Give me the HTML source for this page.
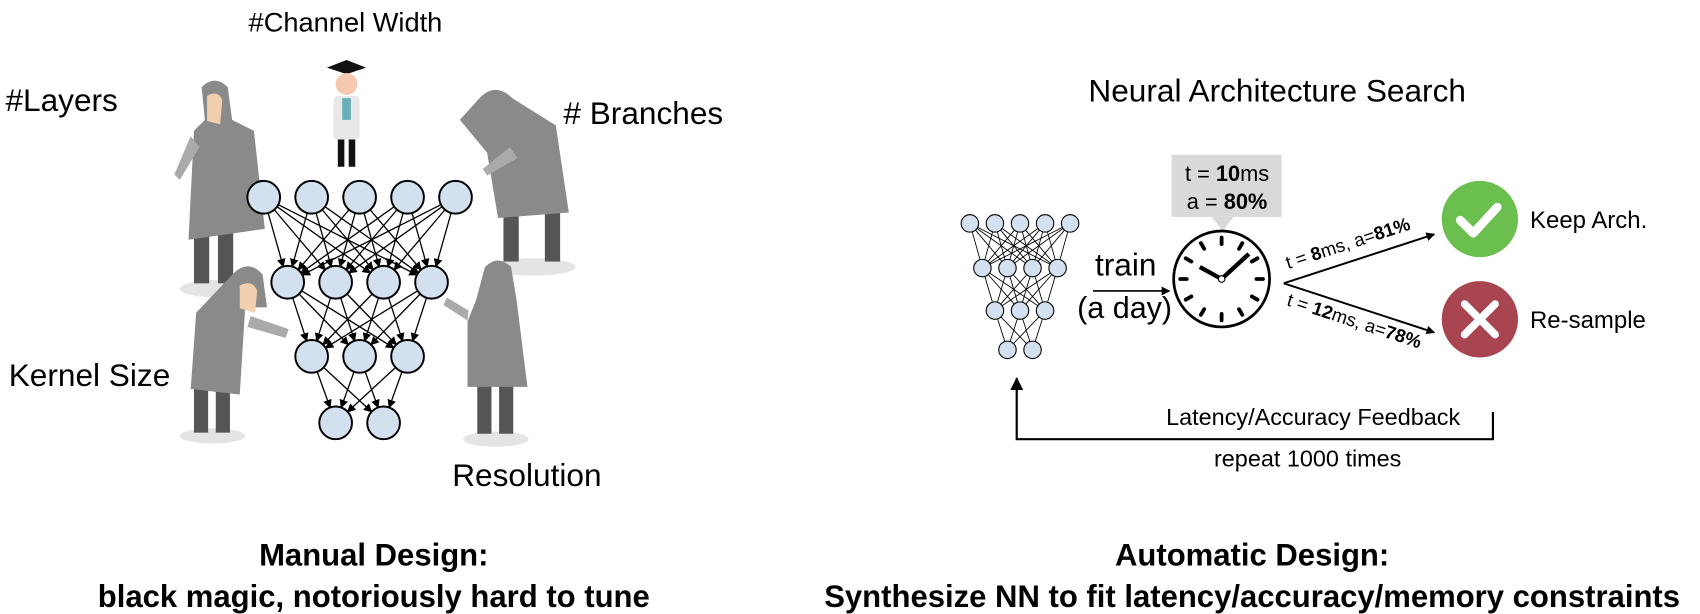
<!DOCTYPE html>
<html><head><meta charset="utf-8"><style>
body{margin:0;background:#fff;}
svg{display:block;font-family:"Liberation Sans",sans-serif;}
</style></head><body>
<svg id="s" width="1700" height="614" viewBox="0 0 1560 563.4">
<defs>
<marker id="ar" markerWidth="8" markerHeight="8" refX="7" refY="4" orient="auto" markerUnits="userSpaceOnUse"><path d="M0,0 L8,4 L0,8 z" fill="#000"/></marker>
<marker id="ar2" markerWidth="12" markerHeight="12" refX="11" refY="6" orient="auto" markerUnits="userSpaceOnUse"><path d="M0,0 L12,6 L0,12 z" fill="#000"/></marker>
</defs>
<g font-size="29" fill="#000">
<text x="317" y="29" font-size="25" text-anchor="middle">#Channel Width</text>
<text x="5" y="102">#Layers</text>
<text x="517" y="114"># Branches</text>
<text x="8" y="354">Kernel Size</text>
<text x="415" y="446">Resolution</text>
</g>
<g>
<g>
<ellipse cx="200" cy="265" rx="35" ry="8" fill="#e4e4e4"/>
<rect x="178" y="205" width="14" height="55" fill="#555"/><rect x="200" y="205" width="14" height="55" fill="#555"/>
<path d="M185,80 q12,-12 24,0 l4,30 l20,10 l10,90 l-70,10 l5,-100 l10,-10 z" fill="#8a8a8a"/>
<path d="M190,88 q10,-6 14,4 l-2,22 l-12,-3 z" fill="#f2cfae"/>
<path d="M175,125 l-15,35 l5,5 l18,-30 z" fill="#aaa"/>
</g>
<g>
<ellipse cx="490" cy="245" rx="38" ry="8" fill="#e4e4e4"/>
<rect x="462" y="190" width="14" height="50" fill="#555"/><rect x="500" y="190" width="14" height="50" fill="#555"/>
<path d="M440,90 q15,-15 30,0 l40,25 l12,80 l-65,5 l-10,-60 l-25,-30 z" fill="#8a8a8a"/>
<path d="M468,135 l-25,20 l4,6 l28,-16 z" fill="#aaa"/>
</g>
<g>
<ellipse cx="195" cy="400" rx="30" ry="7" fill="#e4e4e4"/>
<rect x="178" y="355" width="13" height="42" fill="#555"/><rect x="198" y="355" width="13" height="42" fill="#555"/>
<path d="M215,250 q14,-12 26,2 l4,30 l-20,0 l-5,80 l-45,-5 l5,-70 z" fill="#8a8a8a"/>
<path d="M220,262 q12,-6 16,5 l-2,20 l-14,-4 z" fill="#f2cfae"/>
<path d="M230,290 l35,12 l-3,8 l-35,-10 z" fill="#aaa"/>
</g>
<g>
<ellipse cx="455" cy="403" rx="30" ry="7" fill="#e4e4e4"/>
<rect x="438" y="350" width="13" height="48" fill="#555"/><rect x="458" y="350" width="13" height="48" fill="#555"/>
<path d="M445,245 q12,-12 24,0 l5,30 l10,80 l-55,0 l0,-60 l8,-20 z" fill="#8a8a8a"/>
<path d="M430,285 l-20,-12 l-3,7 l22,14 z" fill="#aaa"/>
</g>
<g>
<path d="M300,62 l18,-7 l18,7 l-18,6 z" fill="#111"/>
<circle cx="318" cy="77" r="10" fill="#f5c9b0"/>
<rect x="306" y="88" width="24" height="40" rx="4" fill="#e8e8e8"/>
<rect x="314" y="90" width="8" height="20" fill="#6ab0b8"/>
<rect x="310" y="128" width="6" height="25" fill="#111"/><rect x="320" y="128" width="6" height="25" fill="#111"/>
</g>
</g>
<g id="netL"></g>
<g id="netR"></g>
<text x="1172" y="93" font-size="29" text-anchor="middle">Neural Architecture Search</text>
<g>
<text x="1033" y="253" font-size="29" text-anchor="middle">train</text>
<line x1="1003" y1="267" x2="1073" y2="267" stroke="#000" stroke-width="1.5" marker-end="url(#ar)"/>
<text x="1032" y="292" font-size="28" text-anchor="middle">(a day)</text>
</g>
<g>
<rect x="1075" y="142" width="101" height="57" fill="#d9d9d9"/>
<path d="M1112,199 l10,13 l10,-13 z" fill="#d9d9d9"/>
<text x="1126" y="166" font-size="20" text-anchor="middle">t = <tspan font-weight="bold">10</tspan>ms</text>
<text x="1126" y="192" font-size="20" text-anchor="middle">a = <tspan font-weight="bold">80%</tspan></text>
</g>
<g id="clock">
<circle cx="1121" cy="256" r="44" fill="#fff" stroke="#000" stroke-width="2.5"/>
<line x1="1121" y1="256" x2="1101" y2="245" stroke="#000" stroke-width="4"/>
<line x1="1121" y1="256" x2="1146" y2="233" stroke="#000" stroke-width="4"/>
<circle cx="1121" cy="256" r="3" fill="#fff" stroke="#000"/>
</g>
<g>
<line x1="1178" y1="260" x2="1316" y2="215" stroke="#000" stroke-width="1.8" marker-end="url(#ar)"/>
<line x1="1178" y1="260" x2="1316" y2="305" stroke="#000" stroke-width="1.8" marker-end="url(#ar)"/>
<text transform="translate(1182,247) rotate(-18)" font-size="17">t = <tspan font-weight="bold">8</tspan>ms, a=<tspan font-weight="bold">81%</tspan></text>
<text transform="translate(1180,280) rotate(18)" font-size="17">t = <tspan font-weight="bold">12</tspan>ms, a=<tspan font-weight="bold">78%</tspan></text>
</g>
<g>
<circle cx="1358" cy="201" r="35" fill="#6bbf4e"/>
<path d="M1340,202 l12,12 l22,-24" fill="none" stroke="#fff" stroke-width="8" stroke-linecap="round" stroke-linejoin="round"/>
<text x="1404" y="209" font-size="22">Keep Arch.</text>
</g>
<g>
<circle cx="1358" cy="293" r="35" fill="#a84550"/>
<path d="M1344,279 l28,28 M1372,279 l-28,28" stroke="#fff" stroke-width="7" stroke-linecap="round"/>
<text x="1404" y="301" font-size="22">Re-sample</text>
</g>
<g>
<path d="M1370,378 L1370,403 L933,403 L933,347" fill="none" stroke="#000" stroke-width="2" marker-end="url(#ar2)"/>
<text x="1205" y="390" font-size="21.5" text-anchor="middle">Latency/Accuracy Feedback</text>
<text x="1200" y="428" font-size="21.5" text-anchor="middle">repeat 1000 times</text>
</g>
<g font-size="28.5" font-weight="bold" text-anchor="middle">
<text x="343" y="519">Manual Design:</text>
<text x="343" y="557">black magic, notoriously hard to tune</text>
<text x="1149" y="519">Automatic Design:</text>
<text x="1149" y="557">Synthesize NN to fit latency/accuracy/memory constraints</text>
</g>
</svg>
<script>
const layerSizes=[5,4,3,2];
const NS="http://www.w3.org/2000/svg";
function net(g,cx,ys,dx,r,sw){
  const pts=layerSizes.map((n,i)=>{const a=[];for(let k=0;k<n;k++)a.push([cx+(k-(n-1)/2)*dx,ys[i]]);return a;});
  for(let i=0;i<pts.length-1;i++)for(const p of pts[i])for(const q of pts[i+1]){
    const L=Math.hypot(q[0]-p[0],q[1]-p[1]);const ux=(q[0]-p[0])/L,uy=(q[1]-p[1])/L;
    const l=document.createElementNS(NS,'line');
    
    
    l.setAttribute('x1',p[0]+ux*r);l.setAttribute('y1',p[1]+uy*r);
    l.setAttribute('x2',q[0]-ux*r);l.setAttribute('y2',q[1]-uy*r);
    l.setAttribute('stroke','#000');l.setAttribute('stroke-width',sw);
    if(r>10)l.setAttribute('marker-end','url(#ar)');
    g.appendChild(l);}
  for(const a of pts)for(const p of a){
    const c=document.createElementNS(NS,'circle');
    
    
    c.setAttribute('cx',p[0]);c.setAttribute('cy',p[1]);c.setAttribute('r',r);
    c.setAttribute('fill','#d3e0f0');c.setAttribute('stroke','#000');c.setAttribute('stroke-width',r>10?1.8:1);
    g.appendChild(c);}
}
net(document.getElementById('netL'),330,[181,259,327,388],44,15,1.2);
net(document.getElementById('netR'),936,[205,246,285,321],23,8,0.8);
const ck=document.getElementById('clock');
for(let i=0;i<12;i++){const a=i*Math.PI/6;
  const t=document.createElementNS(NS,'line');
  
  
  t.setAttribute('x1',1121+Math.sin(a)*32);t.setAttribute('y1',256-Math.cos(a)*32);
  t.setAttribute('x2',1121+Math.sin(a)*38);t.setAttribute('y2',256-Math.cos(a)*38);
  t.setAttribute('stroke','#000');t.setAttribute('stroke-width',3.5);t.setAttribute('stroke-linecap','round');
  ck.insertBefore(t,ck.children[1]);}
</script>
</body></html>
